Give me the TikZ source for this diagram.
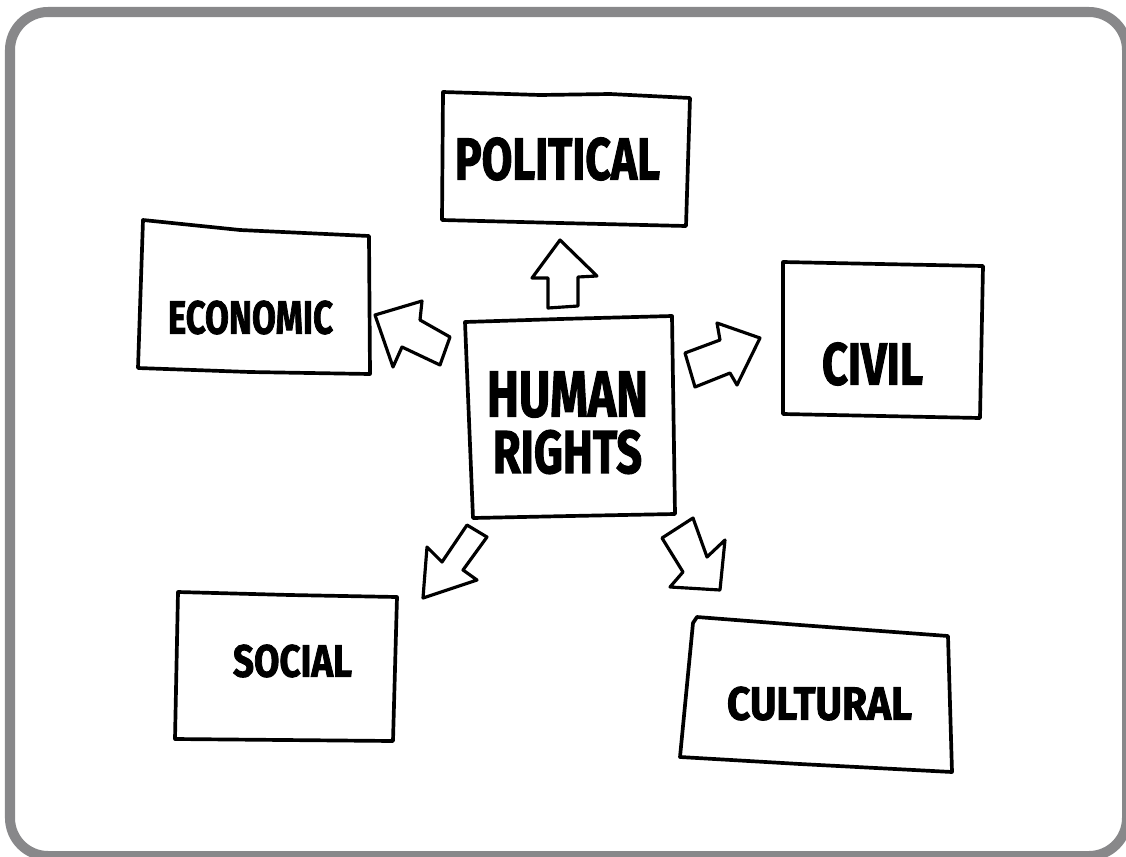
\documentclass[tikz,border=0pt]{standalone}
\usepackage{fontspec}
\usepackage{graphicx}
\newfontfamily\sketchfont{Fira Sans}[BoldFeatures={FakeBold=2}]
\newlength\pxu
\setlength\pxu{0.02cm}
\newcommand\boxlabel[3]{\resizebox{#1\pxu}{#2\pxu}{\sketchfont\bfseries #3}}
\definecolor{framegray}{RGB}{136,136,138}
\tikzset{
  sketchbox/.style={draw=black, line width=2.1pt, line join=round, line cap=round},
  blockarrow/.style={draw=black, line width=1.8pt, line join=round, fill=white},
  lbl/.style={inner sep=0pt, outer sep=0pt}
}
\begin{document}
\begin{tikzpicture}[x=0.02cm, y=-0.02cm]
\useasboundingbox (0,0) rectangle (1126,856);
\clip (0,0) rectangle (1126,856);
\fill[white] (0,0) rectangle (1126,856);
% frame
\draw[framegray, line width=5.7pt, rounded corners=38\pxu] (10,12) rectangle (1127,856);

% boxes
\draw[sketchbox] (443,92) -- (540,95) -- (610,94) -- (690,98) -- (686,226) -- (560,223) -- (442,220) -- cycle;
\draw[sketchbox] (143,220) -- (240,230) -- (369,236) -- (370,374) -- (250,372) -- (138,368) -- cycle;
\draw[sketchbox] (465,322) -- (560,319) -- (672,316) -- (675,514) -- (570,516) -- (473,518) -- cycle;
\draw[sketchbox] (783,262) -- (880,264) -- (983,266) -- (980,418) -- (783,414) -- cycle;
\draw[sketchbox] (178,592) -- (290,595) -- (397,597) -- (393,741) -- (175,739) -- cycle;
\draw[sketchbox] (697,617) -- (800,625) -- (948,636) -- (952,772) -- (800,764) -- (680,757) -- (693,623) -- cycle;

% labels
\node[lbl] (political) at (557.5,159) {\boxlabel{205}{42}{POLITICAL}};
\node[lbl] (economic) at (250.5,317.5) {\boxlabel{165}{33}{ECONOMIC}};
\node[lbl] (human) at (567.5,394.5) {\boxlabel{161}{45}{HUMAN}};
\node[lbl] (rights) at (567.5,452) {\boxlabel{149}{43}{RIGHTS}};
\node[lbl] (civil) at (872.5,364) {\boxlabel{101}{42}{CIVIL}};
\node[lbl] (social) at (292.5,661) {\boxlabel{119}{32}{SOCIAL}};
\node[lbl] (cultural) at (819.5,703.5) {\boxlabel{185}{33}{CULTURAL}};

% block arrows
% up (to political)
\draw[blockarrow] (560,240) -- (597,276) -- (578,277) -- (578,306) -- (548,308) -- (548,278) -- (532,278) -- cycle;
% up-left (to economic)
\draw[blockarrow] (375,315) -- (422,301) -- (420,320) -- (450,337) -- (440,365) -- (402,347) -- (393,367) -- cycle;
% right (to civil)
\draw[blockarrow] (760,338) -- (737,385) -- (730,373) -- (695,387) -- (685,353) -- (720,340) -- (717,323) -- cycle;
% down-left (to social)
\draw[blockarrow] (423,598) -- (427,547) -- (442,562) -- (467,525) -- (487,537) -- (463,570) -- (477,580) -- cycle;
% down-right (to cultural)
\draw[blockarrow] (720,590) -- (670,587) -- (683,572) -- (662,538) -- (693,518) -- (707,557) -- (725,540) -- cycle;
\end{tikzpicture}
\end{document}
